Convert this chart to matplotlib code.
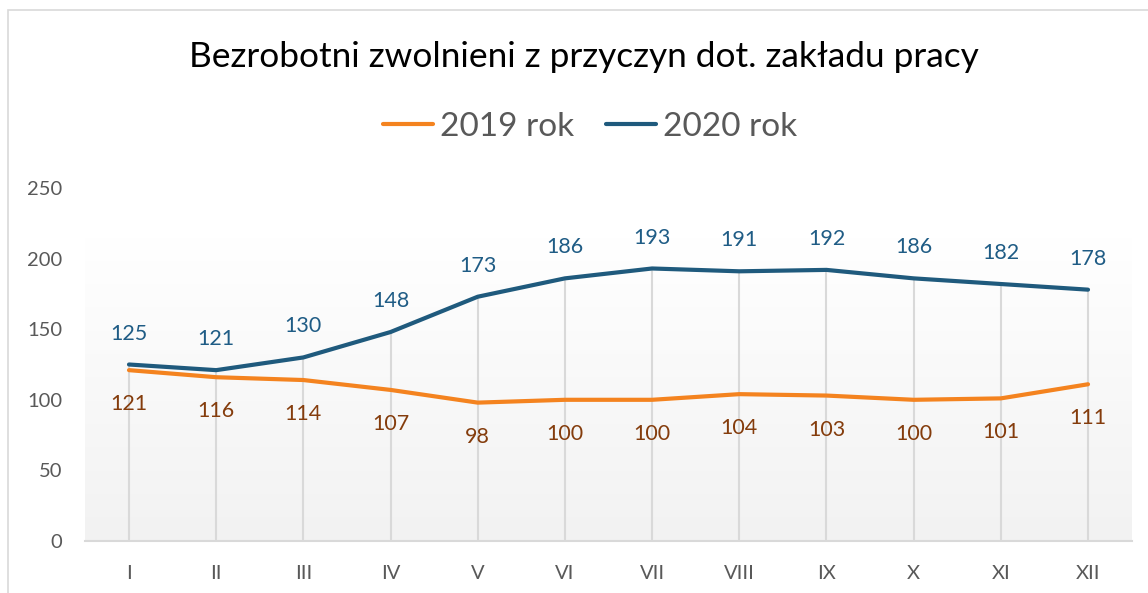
import matplotlib
matplotlib.use("Agg")
import matplotlib.pyplot as plt
import numpy as np
from matplotlib.patches import Rectangle

months = ["I", "II", "III", "IV", "V", "VI", "VII", "VIII", "IX", "X", "XI", "XII"]
y2019 = [121, 116, 114, 107, 98, 100, 100, 104, 103, 100, 101, 111]
y2020 = [125, 121, 130, 148, 173, 186, 193, 191, 192, 186, 182, 178]
yticks = [0, 50, 100, 150, 200, 250]

plt.rcParams['font.family'] = ['Lato', 'DejaVu Sans']

W, H = 1148, 593
fig = plt.figure(figsize=(W / 100, H / 100), dpi=100)
# chart border
fig.patches.append(Rectangle((7.5 / W, -0.1), 1.2, 1 - 10.5 / H + 0.1, transform=fig.transFigure,
                             fill=False, edgecolor="#d9d9d9", linewidth=1.2))

left, right = 85.4 / W, 1131.6 / W
bottom, top = 1 - 541 / H, 1 - 188 / H
ax = fig.add_axes([left, bottom, right - left, top - bottom])
x = np.arange(len(months))
ax.set_xlim(-0.5, len(months) - 0.5)
ax.set_ylim(0, 250)

# gradient background
grad = np.linspace(0, 1, 256).reshape(-1, 1)
cmap = matplotlib.colors.LinearSegmentedColormap.from_list("g", ["#f2f2f2", "#ffffff"])
ax.imshow(grad, extent=[-0.5, len(months) - 0.5, 0, 215], origin="lower", aspect="auto",
          cmap=cmap, zorder=0)

# drop lines
for xi, a, b in zip(x, y2019, y2020):
    ax.plot([xi, xi], [0, max(a, b)], color="#d9d9d9", lw=1.5, zorder=1)

ax.plot(x, y2019, color="#f4831f", lw=3, label="2019 rok", zorder=3, solid_capstyle="round")
ax.plot(x, y2020, color="#1f5a7d", lw=3, label="2020 rok", zorder=3, solid_capstyle="round")

for xi, v in zip(x, y2020):
    ax.annotate(str(v), (xi, v), xytext=(0, 22.3), textcoords="offset points", ha="center",
                va="center", fontsize=15.5, color="#1f5c85")
for xi, v in zip(x, y2019):
    ax.annotate(str(v), (xi, v), xytext=(0, -24.5), textcoords="offset points", ha="center",
                va="center", fontsize=15.5, color="#843c0c")

for s in ["top", "right", "left"]:
    ax.spines[s].set_visible(False)
ax.spines["bottom"].set_color("#d9d9d9")
ax.spines["bottom"].set_linewidth(1.5)
ax.set_xticks(x)
ax.set_xticklabels(months)
ax.set_yticks(yticks)
ax.tick_params(axis="both", length=0, labelsize=14.5, labelcolor="#595959")
ax.tick_params(axis="x", pad=17)
ax.tick_params(axis="y", pad=16.5)

fig.text(584 / W, 1 - 57 / H, "Bezrobotni zwolnieni z przyczyn dot. zakładu pracy", ha="center",
         va="center", fontsize=25.4, color="#000000")
fig.legend(loc="center", bbox_to_anchor=(590 / W, 1 - 127 / H), ncol=2, frameon=False,
           fontsize=24, labelcolor="#595959", handlelength=1.5, handletextpad=0.2,
           columnspacing=0.96)

fig.savefig("out.png", dpi=100)
